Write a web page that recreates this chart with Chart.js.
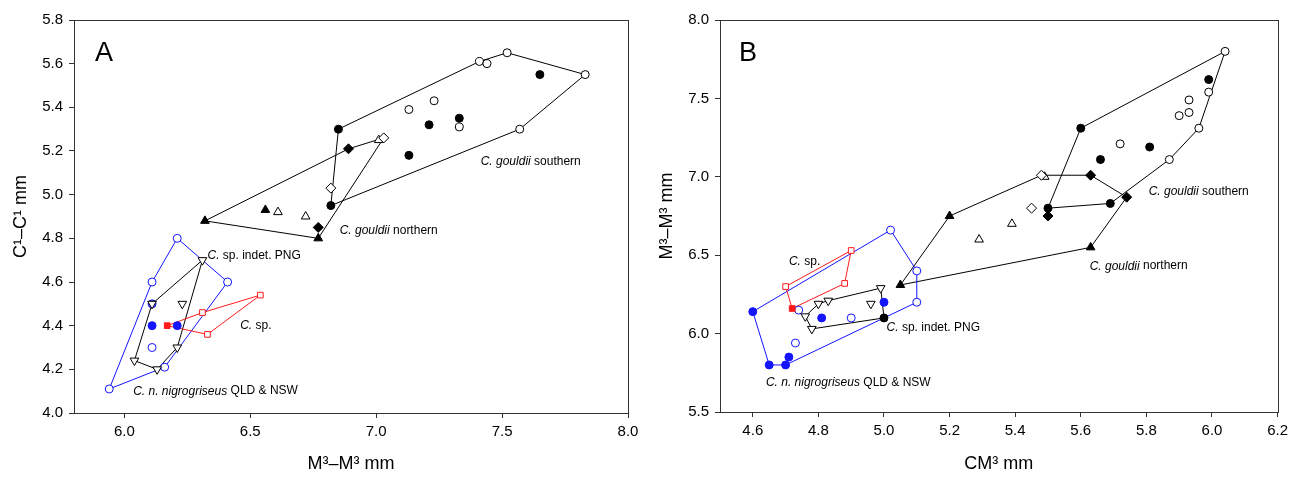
<!DOCTYPE html>
<html>
<head>
<meta charset="utf-8">
<script src="https://cdn.jsdelivr.net/npm/chart.js@4.4.1/dist/chart.umd.min.js"></script>
<style>
    body { margin: 0; background: #fff; }
    .panel { position: absolute; top: 0; }
</style>
</head>
<body>
<canvas id="chartA" class="panel" width="646" height="477" style="left:0"></canvas>
<canvas id="chartB" class="panel" width="647" height="477" style="left:646px"></canvas>
<script>
// Panel A: M3-M3 (x) vs C1-C1 (y)
const aTicksX = [6.0, 6.5, 7.0, 7.5, 8.0];
const aTicksY = [4.0, 4.2, 4.4, 4.6, 4.8, 5.0, 5.2, 5.4, 5.6, 5.8];

const aNigroOpen = [[6.21, 4.80], [6.41, 4.60], [6.16, 4.21], [5.94, 4.11], [6.11, 4.60], [6.11, 4.30]];
const aNigroFilled = [[6.11, 4.40], [6.21, 4.40]];
const aNigroHull = [[6.21, 4.80], [6.41, 4.60], [6.16, 4.21], [5.94, 4.11], [6.11, 4.60], [6.21, 4.80]];

const aPngTri = [[6.31, 4.70], [6.21, 4.30], [6.13, 4.20], [6.04, 4.24], [6.23, 4.50], [6.11, 4.50]];
const aPngDot = [[6.11, 4.50]];
const aPngHull = [[6.31, 4.70], [6.21, 4.30], [6.13, 4.20], [6.04, 4.24], [6.11, 4.50], [6.31, 4.70]];

const aSpOpen = [[6.31, 4.46], [6.54, 4.54], [6.33, 4.36]];
const aSpFilled = [[6.17, 4.40]];
const aSpHull = [[6.17, 4.40], [6.31, 4.46], [6.54, 4.54], [6.33, 4.36], [6.17, 4.40]];

const aNorthTriFilled = [[6.32, 4.88], [6.77, 4.80], [6.56, 4.93]];
const aNorthTriOpen = [[6.61, 4.92], [6.72, 4.90], [7.01, 5.25]];
const aNorthDiaFilled = [[6.89, 5.21], [6.77, 4.85]];
const aNorthDiaOpen = [[7.03, 5.26], [6.82, 5.03]];
const aNorthHull = [[6.32, 4.88], [6.89, 5.21], [7.03, 5.26], [6.77, 4.80], [6.32, 4.88]];

const aSouthFilled = [[6.85, 5.30], [6.82, 4.95], [7.65, 5.55], [7.21, 5.32], [7.33, 5.35], [7.13, 5.18]];
const aSouthOpen = [[7.41, 5.61], [7.44, 5.60], [7.52, 5.65], [7.83, 5.55], [7.57, 5.30], [7.13, 5.39], [7.23, 5.43], [7.33, 5.31]];
const aSouthHull = [[6.85, 5.30], [7.41, 5.61], [7.52, 5.65], [7.83, 5.55], [7.57, 5.30], [6.82, 4.95], [6.85, 5.30]];

// Panel B: CM3 (x) vs M3-M3 (y)
const bTicksX = [4.6, 4.8, 5.0, 5.2, 5.4, 5.6, 5.8, 6.0, 6.2];
const bTicksY = [5.5, 6.0, 6.5, 7.0, 7.5, 8.0];

const bNigroFilled = [[4.60, 6.14], [4.65, 5.80], [4.70, 5.80], [4.71, 5.85], [4.81, 6.10], [5.00, 6.20]];
const bNigroOpen = [[5.10, 6.20], [5.10, 6.40], [5.02, 6.66], [4.73, 5.94], [4.90, 6.10], [4.74, 6.15]];
const bNigroHull = [[4.60, 6.14], [4.65, 5.80], [4.70, 5.80], [5.10, 6.20], [5.10, 6.40], [5.02, 6.66], [4.60, 6.14]];

const bPngTri = [[4.99, 6.29], [4.78, 6.03], [4.76, 6.11], [4.80, 6.19], [4.83, 6.21], [4.96, 6.19]];
const bPngDot = [[5.00, 6.10]];
const bPngHull = [[4.99, 6.29], [5.00, 6.10], [4.78, 6.03], [4.76, 6.11], [4.80, 6.19], [4.83, 6.21], [4.99, 6.29]];

const bSpOpen = [[4.70, 6.30], [4.90, 6.53], [4.88, 6.32]];
const bSpFilled = [[4.72, 6.16]];
const bSpHull = [[4.72, 6.16], [4.70, 6.30], [4.90, 6.53], [4.88, 6.32], [4.72, 6.16]];

const bNorthTriFilled = [[5.05, 6.31], [5.20, 6.75], [5.63, 6.55]];
const bNorthTriOpen = [[5.49, 7.00], [5.39, 6.70], [5.29, 6.60]];
const bNorthDiaFilled = [[5.63, 7.01], [5.74, 6.87], [5.50, 6.75]];
const bNorthDiaOpen = [[5.48, 7.01], [5.45, 6.80]];
const bNorthHull = [[5.05, 6.31], [5.20, 6.75], [5.48, 7.01], [5.63, 7.01], [5.74, 6.87], [5.63, 6.55], [5.05, 6.31]];

const bSouthFilled = [[5.50, 6.80], [5.60, 7.31], [5.69, 6.83], [5.99, 7.62], [5.81, 7.19], [5.66, 7.11]];
const bSouthOpen = [[6.04, 7.80], [5.96, 7.31], [5.87, 7.11], [5.99, 7.54], [5.93, 7.49], [5.93, 7.41], [5.90, 7.39], [5.72, 7.21]];
const bSouthHull = [[5.50, 6.80], [5.60, 7.31], [6.04, 7.80], [5.96, 7.31], [5.87, 7.11], [5.69, 6.83], [5.50, 6.80]];

const BLUE = '#1414ff';
const RED = '#ff1a1a';
const BLACK = '#000000';
const FONT = "'Liberation Sans', Arial, sans-serif";

function toXY(list) {
    return list.map(p => ({ x: p[0], y: p[1] }));
}

// polygon outline, drawn underneath the markers
function hull(list, color) {
    return {
        data: toXY(list),
        showLine: true,
        borderColor: color,
        borderWidth: 1,
        pointRadius: 0,
        fill: false,
        order: 2
    };
}

function marks(list, style, color, filled, size, rotation) {
    return {
        data: toXY(list),
        showLine: false,
        pointStyle: style,
        pointRotation: rotation || 0,
        pointRadius: size,
        pointBorderWidth: 1,
        pointBorderColor: color,
        pointBackgroundColor: filled === true ? color : (filled || '#ffffff'),
        order: 1
    };
}

// text labels: parts are [text, italic]
const aLabels = [
    { x: 7.415, y: 5.15, parts: [['C. gouldii', true], [' southern', false]] },
    { x: 6.855, y: 4.835, parts: [['C. gouldii', true], [' northern', false]] },
    { x: 6.33, y: 4.72, parts: [['C.', true], [' sp. indet. PNG', false]] },
    { x: 6.46, y: 4.40, parts: [['C.', true], [' sp.', false]] },
    { x: 6.035, y: 4.10, parts: [['C. n. nigrogriseus', true], [' QLD & NSW', false]] }
];
const bLabels = [
    { x: 5.807, y: 6.905, parts: [['C. gouldii', true], [' southern', false]] },
    { x: 5.627, y: 6.43, parts: [['C. gouldii', true], [' northern', false]] },
    { x: 4.71, y: 6.46, parts: [['C.', true], [' sp.', false]] },
    { x: 5.008, y: 6.04, parts: [['C.', true], [' sp. indet. PNG', false]] },
    { x: 4.64, y: 5.69, parts: [['C. n. nigrogriseus', true], [' QLD & NSW', false]] }
];

const framePlugin = {
    id: 'frame',
    afterDatasetsDraw(chart, args, opts) {
        const ctx = chart.ctx;
        const area = chart.chartArea;
        ctx.save();
        ctx.strokeStyle = '#333';
        ctx.lineWidth = 1;
        ctx.strokeRect(Math.round(area.left) + 0.5, Math.round(area.top) + 0.5,
            Math.round(area.right - area.left), Math.round(area.bottom - area.top));

        // group labels
        ctx.fillStyle = '#000';
        ctx.textBaseline = 'middle';
        ctx.textAlign = 'left';
        opts.labels.forEach(lab => {
            let px = chart.scales.x.getPixelForValue(lab.x);
            const py = chart.scales.y.getPixelForValue(lab.y);
            lab.parts.forEach(part => {
                ctx.font = (part[1] ? 'italic ' : '') + '12px ' + FONT;
                ctx.fillText(part[0], px, py);
                px += ctx.measureText(part[0]).width;
            });
        });

        // panel letter
        ctx.font = '27px ' + FONT;
        ctx.textAlign = 'center';
        ctx.fillText(opts.letter, area.left + opts.letterDx, area.top + 34);
        ctx.restore();
    }
};

function makeChart(id, cfg) {
    const tickFont = { family: FONT, size: 15 };
    const titleFont = { family: FONT, size: 18 };
    return new Chart(document.getElementById(id), {
        type: 'scatter',
        data: { datasets: cfg.datasets },
        options: {
            responsive: false,
            animation: false,
            events: [],
            layout: { padding: { top: 20, right: cfg.padRight, left: 0, bottom: 0 } },
            plugins: {
                legend: { display: false },
                tooltip: { enabled: false },
                frame: { labels: cfg.labels, letter: cfg.letter, letterDx: cfg.letterDx }
            },
            scales: {
                x: {
                    type: 'linear',
                    min: cfg.xMin,
                    max: cfg.xMax,
                    afterBuildTicks: s => { s.ticks = cfg.ticksX.map(v => ({ value: v })); },
                    afterFit: s => { s.height = cfg.xHeight; },
                    ticks: { font: tickFont, color: '#000', padding: 5, maxRotation: 0, callback: v => v.toFixed(1) },
                    grid: { drawOnChartArea: false, drawTicks: true, tickLength: 5, color: '#333' },
                    border: { display: true, color: '#333' },
                    title: { display: true, text: cfg.xTitle, font: titleFont, color: '#000', padding: { top: 2, bottom: 2 } }
                },
                y: {
                    type: 'linear',
                    min: cfg.yMin,
                    max: cfg.yMax,
                    afterBuildTicks: s => { s.ticks = cfg.ticksY.map(v => ({ value: v })); },
                    afterFit: s => { s.width = 74; },
                    ticks: { font: tickFont, color: '#000', padding: 6, callback: v => v.toFixed(1) },
                    grid: { drawOnChartArea: false, drawTicks: true, tickLength: 5, color: '#333' },
                    border: { display: true, color: '#333' },
                    title: { display: true, text: cfg.yTitle, font: titleFont, color: '#000', padding: { top: 10, bottom: 0 } }
                }
            }
        },
        plugins: [framePlugin]
    });
}

makeChart('chartA', {
    xMin: 5.8, xMax: 8.0, yMin: 4.0, yMax: 5.8,
    ticksX: aTicksX, ticksY: aTicksY,
    xTitle: 'M³–M³ mm', yTitle: 'C¹–C¹ mm',
    xHeight: 64, padRight: 18,
    labels: aLabels, letter: 'A', letterDx: 30,
    datasets: [
        marks(aSpFilled, 'rect', RED, true, 4),
        marks(aSpOpen, 'rect', RED, false, 4),
        marks(aPngTri, 'triangle', BLACK, false, 5, 180),
        marks(aPngDot, 'circle', BLUE, '#7a7aa8', 4),
        marks(aNigroFilled, 'circle', BLUE, true, 4),
        marks(aNigroOpen, 'circle', BLUE, false, 4),
        marks(aNorthDiaFilled, 'rectRot', BLACK, true, 5),
        marks(aNorthDiaOpen, 'rectRot', BLACK, false, 5),
        marks(aNorthTriFilled, 'triangle', BLACK, true, 5),
        marks(aNorthTriOpen, 'triangle', BLACK, false, 5),
        marks(aSouthFilled, 'circle', BLACK, true, 4),
        marks(aSouthOpen, 'circle', BLACK, false, 4),
        hull(aSpHull, RED),
        hull(aPngHull, BLACK),
        hull(aNigroHull, BLUE),
        hull(aNorthHull, BLACK),
        hull(aSouthHull, BLACK)
    ]
});

makeChart('chartB', {
    xMin: 4.5, xMax: 6.2, yMin: 5.5, yMax: 8.0,
    ticksX: bTicksX, ticksY: bTicksY,
    xTitle: 'CM³ mm', yTitle: 'M³–M³ mm',
    xHeight: 65, padRight: 5,
    labels: bLabels, letter: 'B', letterDx: 28,
    datasets: [
        marks(bSpFilled, 'rect', RED, true, 4),
        marks(bSpOpen, 'rect', RED, false, 4),
        marks(bPngDot, 'circle', BLACK, true, 4),
        marks(bPngTri, 'triangle', BLACK, false, 5, 180),
        marks(bNigroFilled, 'circle', BLUE, true, 4),
        marks(bNigroOpen, 'circle', BLUE, false, 4),
        marks(bNorthDiaFilled, 'rectRot', BLACK, true, 5),
        marks(bNorthDiaOpen, 'rectRot', BLACK, false, 5),
        marks(bNorthTriFilled, 'triangle', BLACK, true, 5),
        marks(bNorthTriOpen, 'triangle', BLACK, false, 5),
        marks(bSouthFilled, 'circle', BLACK, true, 4),
        marks(bSouthOpen, 'circle', BLACK, false, 4),
        hull(bSpHull, RED),
        hull(bPngHull, BLACK),
        hull(bNigroHull, BLUE),
        hull(bNorthHull, BLACK),
        hull(bSouthHull, BLACK)
    ]
});
</script>
</body>
</html>
